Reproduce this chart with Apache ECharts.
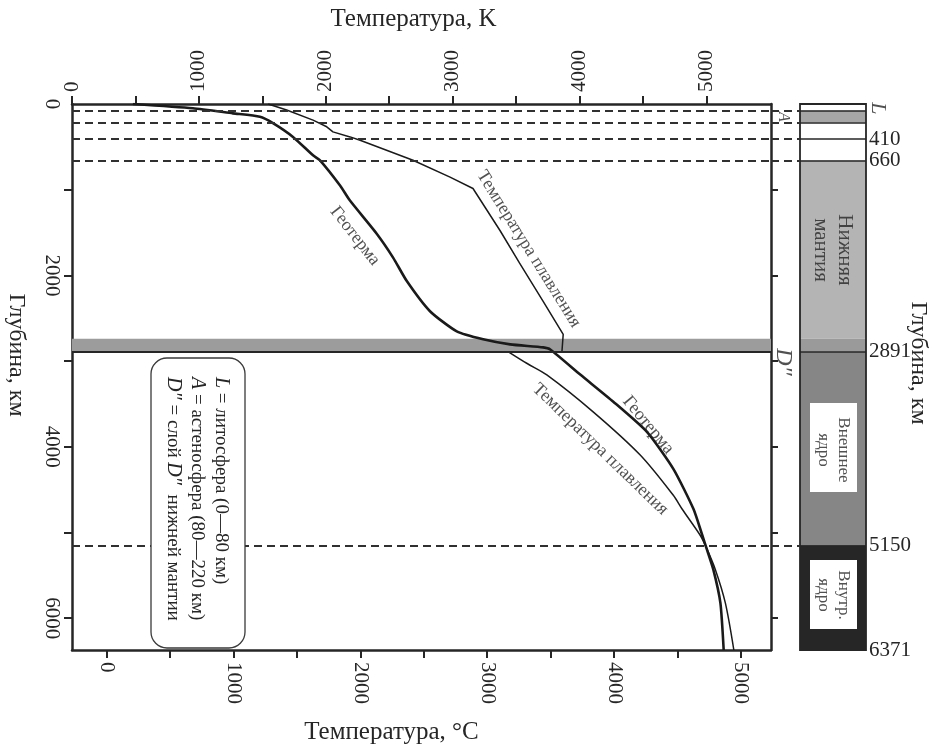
<!DOCTYPE html>
<html><head><meta charset="utf-8">
<script src="https://cdn.jsdelivr.net/npm/echarts@6/dist/echarts.min.js"></script>
<style>html,body{margin:0;padding:0;background:#fff}#c{width:932px;height:749px}</style>
</head><body><div id="c"></div>
<script>
// ---- data (temperature in K, depth in km) ----
const geothermK = [480, 953, 1268, 1481, 1584, 1742, 1900, 1955, 2113, 2191, 2402, 2531, 2639, 2822, 3033, 3241, 3454, 3714, 3770, 4006, 4267, 4532, 4740, 4899, 4969, 5000, 5055, 5111, 5137];
const geothermDepth = [0, 50, 109, 149, 223, 384, 599, 657, 951, 1127, 1514, 1792, 2066, 2418, 2653, 2746, 2805, 2840, 2864, 3157, 3474, 3826, 4257, 4726, 5035, 5176, 5431, 5822, 6371];
const meltUpperK = [1546, 1692, 1900, 2008, 2057, 2192, 2271, 2688, 2980, 3161, 3375, 3527, 3714, 3872, 3862, 3440];
const meltUpperDepth = [0, 70, 188, 266, 325, 384, 423, 657, 853, 986, 1479, 1854, 2302, 2688, 2891, 2891];
const meltLowerK = [3440, 3588, 3743, 4108, 4479, 4740, 4809, 4953, 5000, 5071, 5150, 5217];
const meltLowerDepth = [2891, 3028, 3161, 3592, 4096, 4566, 4726, 5035, 5176, 5431, 5822, 6371];
const boundaryDepths = [80, 220, 410, 660, 5150];
const coreMantleDepth = 2891;
const dLayerTop = 2740;
const layerBounds = [0, 80, 220, 410, 660, 2740, 2891, 5150, 6371];
const kTicks = [0, 500, 1000, 1500, 2000, 2500, 3000, 3500, 4000, 4500, 5000];
const kLabels = [0, 1000, 2000, 3000, 4000, 5000];
const cTicks = [0, 500, 1000, 1500, 2000, 2500, 3000, 3500, 4000, 4500, 5000];
const cLabels = [0, 1000, 2000, 3000, 4000, 5000];
const depthTicks = [1000, 2000, 3000, 4000, 5000, 6000];
const depthLabels = [0, 2000, 4000, 6000];
const columnLabels = [410, 660, 2891, 5150, 6371];
const DEPTH_MAX = 6371;

// ---- styles ----
const FONT = "'Liberation Serif','DejaVu Serif',serif";
const INK = '#262626';
const layerColors = ['#ffffff', '#a6a6a6', '#ffffff', '#ffffff', '#b4b4b4', '#9a9a9a', '#868686', '#262626'];

const zip = (a, b) => a.map((v, i) => [v, b[i]]);
const txt = (size, extra) => Object.assign({ fontFamily: FONT, fontSize: size, color: INK }, extra || {});
const plain = v => String(v);

const chart = echarts.init(document.getElementById('c'), null, { renderer: 'canvas' });

const columnAreas = [];
for (let i = 0; i < layerBounds.length - 1; i++) {
  columnAreas.push([
    { xAxis: 29, yAxis: layerBounds[i], itemStyle: { color: layerColors[i] } },
    { xAxis: 95, yAxis: layerBounds[i + 1] }
  ]);
}
const internalLines = [80, 220, 410, 660, 2891, 5150];
const legendRich = { i: { fontStyle: 'italic', fontSize: 20, fontFamily: FONT, fill: INK } };
const legendFont = "19px 'Liberation Serif',serif";

const option = {
  animation: false,
  backgroundColor: '#fff',
  textStyle: { fontFamily: FONT },
  grid: [
    { left: 72, top: 104, width: 699, height: 546, outerBoundsMode: 'none', containLabel: false },
    { left: 771, top: 104, width: 95, height: 546, outerBoundsMode: 'none', containLabel: false }
  ],
  xAxis: [
    {
      gridIndex: 0, type: 'value', position: 'top', min: 0, max: 5510,
      axisLine: { show: true, onZero: false, lineStyle: { color: INK, width: 2.5 } },
      axisTick: { show: true, inside: false, length: 8, customValues: kTicks, lineStyle: { color: INK, width: 2 } },
      axisLabel: { customValues: kLabels, formatter: plain, rotate: -90, margin: 12, ...txt(21) },
      splitLine: { show: false },
      name: 'Температура, K', nameLocation: 'middle', nameGap: 72, nameMoveOverlap: false,
      nameTextStyle: txt(25, { padding: [0, 16, 0, 0] })
    },
    {
      gridIndex: 0, type: 'value', position: 'bottom', min: -273, max: 5237,
      axisLine: { show: true, onZero: false, lineStyle: { color: INK, width: 2.5 } },
      axisTick: { show: true, inside: false, length: 8, customValues: cTicks, lineStyle: { color: INK, width: 2 } },
      axisLabel: { customValues: cLabels, formatter: plain, rotate: -90, margin: 12, ...txt(21) },
      splitLine: { show: false },
      name: 'Температура, °C', nameLocation: 'middle', nameGap: 70, nameMoveOverlap: false,
      nameTextStyle: txt(25, { padding: [0, 60, 0, 0] })
    },
    { gridIndex: 1, type: 'value', min: 0, max: 95, show: false }
  ],
  yAxis: [
    {
      gridIndex: 0, type: 'value', inverse: true, min: 0, max: DEPTH_MAX, position: 'left',
      axisLine: { show: true, onZero: false, lineStyle: { color: INK, width: 2.5 } },
      axisTick: { show: true, inside: false, length: 8, customValues: depthTicks, lineStyle: { color: INK, width: 2 } },
      axisLabel: { customValues: depthLabels, formatter: plain, rotate: -90, margin: 10, ...txt(21) },
      splitLine: { show: false },
      name: 'Глубина, км', nameLocation: 'middle', nameGap: 44, nameRotate: -90, nameMoveOverlap: false,
      nameTextStyle: txt(24, { padding: [0, 44, 0, 0] })
    },
    {
      gridIndex: 0, type: 'value', inverse: true, min: 0, max: DEPTH_MAX, position: 'right',
      axisLine: { show: true, onZero: false, lineStyle: { color: INK, width: 2.5 } },
      axisTick: { show: true, inside: false, length: 7, customValues: depthTicks, lineStyle: { color: INK, width: 2 } },
      axisLabel: { show: false },
      splitLine: { show: false }
    },
    {
      gridIndex: 1, type: 'value', inverse: true, min: 0, max: DEPTH_MAX, position: 'right',
      axisLine: { show: false, onZero: false }, axisTick: { show: false },
      axisLabel: { customValues: columnLabels, formatter: plain, margin: 3, ...txt(21) },
      splitLine: { show: false },
      name: 'Глубина, км', nameLocation: 'middle', nameGap: 40, nameRotate: -90, nameMoveOverlap: false,
      nameTextStyle: txt(24, { padding: [0, 28, 0, 0] })
    }
  ],
  series: [
    {
      type: 'line', xAxisIndex: 0, yAxisIndex: 0, data: [], silent: true, z: 1,
      markArea: {
        silent: true,
        itemStyle: { color: '#9c9c9c' },
        data: [[{ yAxis: dLayerTop }, { yAxis: coreMantleDepth }]]
      },
      markLine: {
        silent: true, symbol: 'none', label: { show: false },
        data: boundaryDepths.map(d => ({ yAxis: d, lineStyle: { type: [8, 5], color: '#303030', width: 1.8 } }))
          .concat([{ yAxis: coreMantleDepth, lineStyle: { type: 'solid', color: INK, width: 2.2 } }])
      }
    },
    {
      name: 'Геотерма', type: 'line', xAxisIndex: 0, yAxisIndex: 0,
      data: zip(geothermK, geothermDepth), symbol: 'none', smooth: 0.2, z: 4,
      lineStyle: { color: '#1a1a1a', width: 2.6 }
    },
    {
      name: 'Температура плавления', type: 'line', xAxisIndex: 0, yAxisIndex: 0,
      data: zip(meltUpperK, meltUpperDepth), symbol: 'none', smooth: false, z: 3,
      lineStyle: { color: '#1a1a1a', width: 1.5 }
    },
    {
      name: 'Температура плавления (ядро)', type: 'line', xAxisIndex: 0, yAxisIndex: 0,
      data: zip(meltLowerK, meltLowerDepth), symbol: 'none', smooth: 0.3, z: 3,
      lineStyle: { color: '#1a1a1a', width: 1.5 }
    },
    {
      type: 'scatter', xAxisIndex: 0, yAxisIndex: 0, symbolSize: 0, silent: true, z: 6, clip: false,
      label: { show: true, position: 'inside', align: 'center', verticalAlign: 'middle', ...txt(18) },
      data: [
        { value: [2231, 1540], label: { formatter: 'Геотерма', rotate: -52 } },
        { value: [3600, 1692], label: { formatter: 'Температура плавления', rotate: -58 } },
        { value: [4542, 3746], label: { formatter: 'Геотерма', rotate: -50 } },
        { value: [4164, 4028], label: { formatter: 'Температура плавления', rotate: -44 } }
      ]
    },
    {
      type: 'line', xAxisIndex: 2, yAxisIndex: 2, data: [], silent: true, z: 2,
      markArea: { silent: true, data: columnAreas },
      markLine: {
        silent: true, symbol: 'none', label: { show: false },
        data: boundaryDepths.map(d => [
          { coord: [0, d], lineStyle: { type: [8, 5], color: '#303030', width: 1.8 } },
          { coord: [29, d] }
        ]).concat(internalLines.map(d => [
          { coord: [29, d], lineStyle: { type: 'solid', color: INK, width: 1.6 } },
          { coord: [95, d] }
        ]))
      }
    },
    {
      type: 'line', xAxisIndex: 2, yAxisIndex: 2, data: [], silent: true, z: 3,
      markArea: {
        silent: true,
        data: [
          [{ xAxis: 29, yAxis: 0, itemStyle: { color: 'rgba(0,0,0,0)', borderColor: INK, borderWidth: 1.8 } }, { xAxis: 95, yAxis: DEPTH_MAX }],
          [{ xAxis: 39, yAxis: 3489, itemStyle: { color: '#ffffff' } }, { xAxis: 86, yAxis: 4527 }],
          [{ xAxis: 39, yAxis: 5321, itemStyle: { color: '#ffffff' } }, { xAxis: 86, yAxis: 6126 }]
        ]
      }
    },
    {
      type: 'scatter', xAxisIndex: 2, yAxisIndex: 2, symbolSize: 0, silent: true, z: 6, clip: false,
      label: { show: true, position: 'inside', align: 'center', verticalAlign: 'middle', rotate: -90, ...txt(20) },
      data: [
        { value: [62, 1704], label: { formatter: 'Нижняя\nмантия', lineHeight: 24, fontSize: 21 } },
        { value: [62, 4037], label: { formatter: 'Внешнее\nядро', lineHeight: 20, fontSize: 17 } },
        { value: [62, 5729], label: { formatter: 'Внутр.\nядро', lineHeight: 20, fontSize: 17 } },
        { value: [12, 150], label: { formatter: 'A', fontStyle: 'italic', fontSize: 16 } },
        { value: [12, 3010], label: { formatter: 'D″', fontStyle: 'italic', fontSize: 24 } },
        { value: [107, 50], label: { formatter: 'L', fontStyle: 'italic', fontSize: 22 } }
      ]
    }
  ],
  graphic: [
    { type: 'rect', z: 50, silent: true, shape: { x: 151, y: 358, width: 94, height: 290, r: 16 }, style: { fill: '#fff', stroke: '#3a3a3a', lineWidth: 1.3 } },
    {
      type: 'text', z: 51, silent: true, x: 221, y: 377, rotation: -Math.PI / 2,
      style: { text: '{i|L} = литосфера (0—80 км)', font: legendFont, fill: INK, textAlign: 'left', textVerticalAlign: 'middle', rich: legendRich }
    },
    {
      type: 'text', z: 51, silent: true, x: 197, y: 377, rotation: -Math.PI / 2,
      style: { text: '{i|A} = астеносфера (80—220 км)', font: legendFont, fill: INK, textAlign: 'left', textVerticalAlign: 'middle', rich: legendRich }
    },
    {
      type: 'text', z: 51, silent: true, x: 173, y: 377, rotation: -Math.PI / 2,
      style: { text: '{i|D″} = слой {i|D″}  нижней мантии', font: legendFont, fill: INK, textAlign: 'left', textVerticalAlign: 'middle', rich: legendRich }
    }
  ]
};
chart.setOption(option);
</script>
</body></html>
